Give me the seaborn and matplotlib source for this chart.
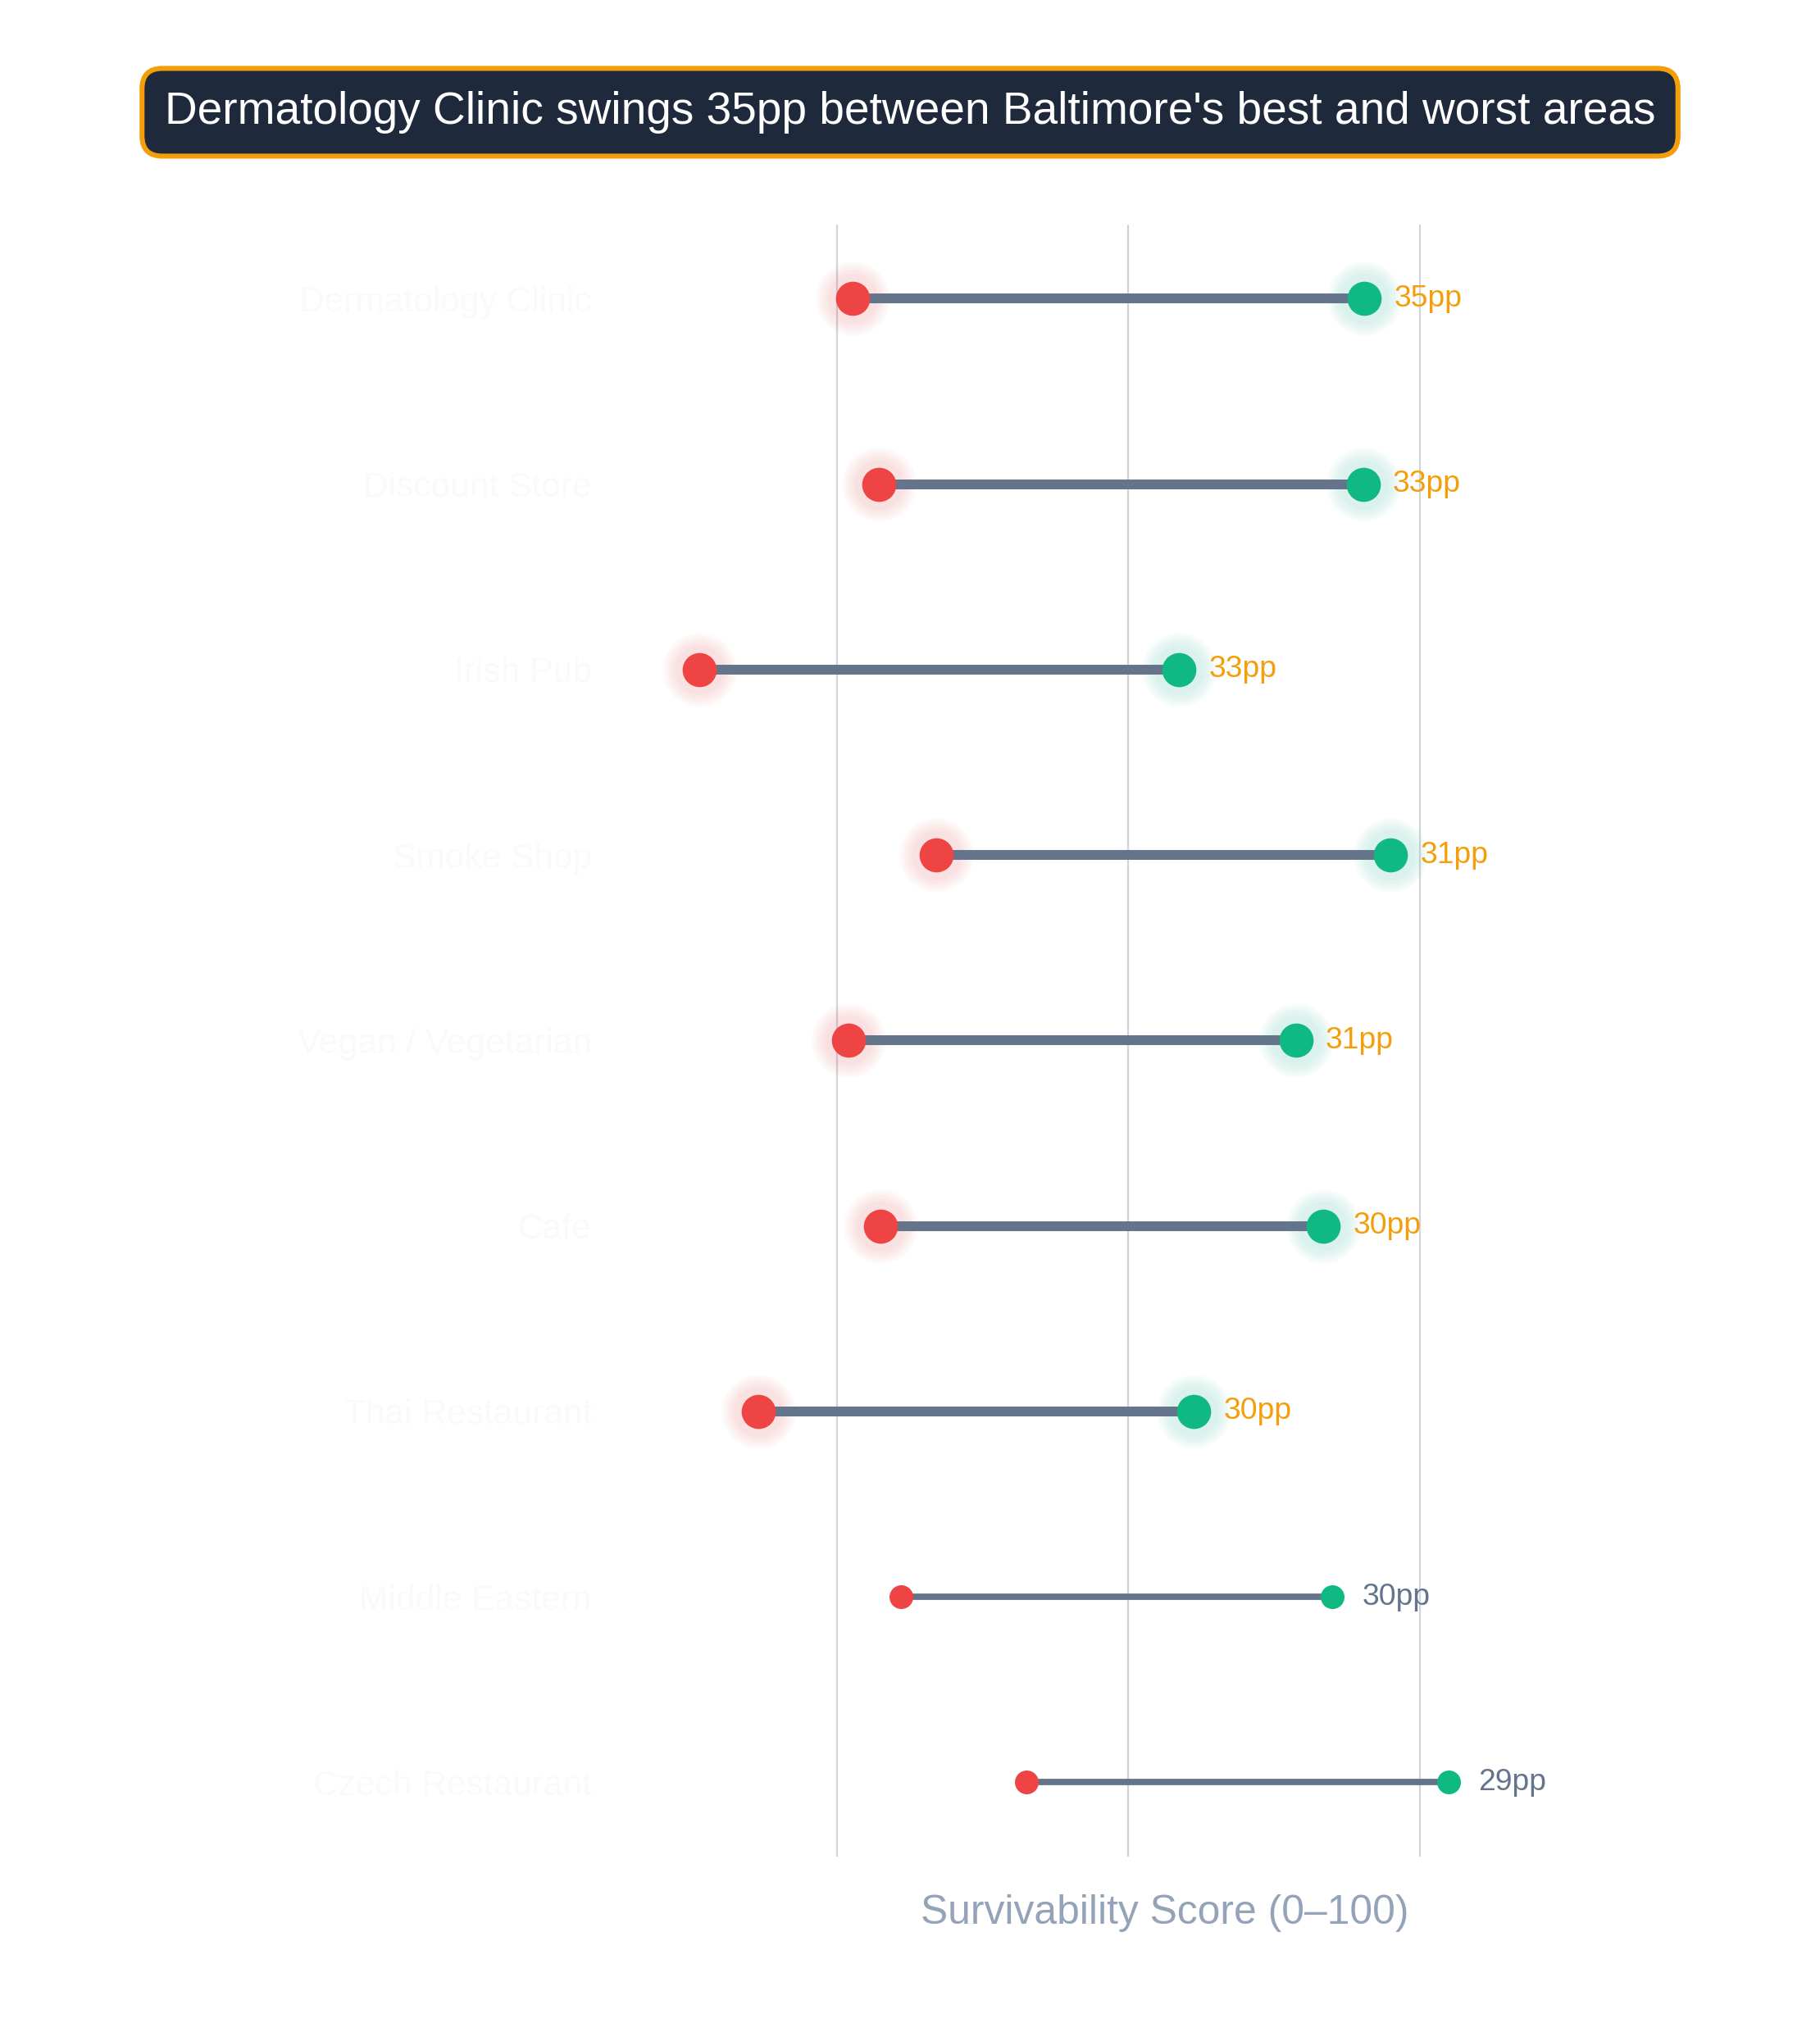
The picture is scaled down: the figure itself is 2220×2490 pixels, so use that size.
import matplotlib.pyplot as plt
import seaborn as sns
import pandas as pd

categories = ["Dermatology Clinic", "Discount Store", "Irish Pub", "Smoke Shop",
              "Vegan / Vegetarian", "Cafe", "Thai Restaurant", "Middle Eastern",
              "Czech Restaurant"]
worst = [41.1, 42.9, 30.6, 46.8, 40.8, 43.0, 34.6, 44.4, 53.0]
best = [76.2, 76.1, 63.5, 78.0, 71.5, 73.4, 64.5, 74.0, 82.0]
gaps = [35, 33, 33, 31, 31, 30, 30, 30, 29]
highlight = [True, True, True, True, True, True, True, False, False]

title = "Dermatology Clinic swings 35pp between Baltimore's best and worst areas"

RED = "#ef4444"
GREEN = "#10b981"
ORANGE = "#f59e0b"
SLATE = "#64748b"

df = pd.DataFrame({"cat": categories, "worst": worst, "best": best,
                   "gap": gaps, "hl": highlight})
df["pos"] = range(len(df))

sns.set_theme(style="white")
plt.rcParams['font.family'] = ['Liberation Sans', 'DejaVu Sans']

fig = plt.figure(figsize=(11.1, 12.45), dpi=200)
ax = fig.add_axes([0.3396, 0.0904, 0.6007, 0.7996])

hl = df[df["hl"]]
rest = df[~df["hl"]]

# connecting bars
ax.hlines(hl["pos"], hl["worst"], hl["best"], color=SLATE, lw=4.3, zorder=2)
ax.hlines(rest["pos"], rest["worst"], rest["best"], color=SLATE, lw=2.8, zorder=2)

# soft glow rings behind highlighted dots
for s in [1050, 900, 760, 620, 480]:
    ax.scatter(hl["worst"], hl["pos"], s=s, color=RED, alpha=0.032, lw=0, zorder=1)
    ax.scatter(hl["best"], hl["pos"], s=s, color=GREEN, alpha=0.032, lw=0, zorder=1)

sns.scatterplot(data=hl, x="worst", y="pos", s=225, color=RED, linewidth=0, ax=ax, zorder=3)
sns.scatterplot(data=hl, x="best", y="pos", s=225, color=GREEN, linewidth=0, ax=ax, zorder=3)
sns.scatterplot(data=rest, x="worst", y="pos", s=109, color=RED, linewidth=0, ax=ax, zorder=3)
sns.scatterplot(data=rest, x="best", y="pos", s=109, color=GREEN, linewidth=0, ax=ax, zorder=3)

for _, r in df.iterrows():
    ax.annotate(f"{r['gap']}pp", (r["best"], r["pos"]), xytext=(13, 0),
                textcoords="offset points", ha="left", va="center",
                fontsize=13.4, color=ORANGE if r["hl"] else SLATE)

ax.set_xlim(25, 100)
ax.set_ylim(len(df) - 0.6, -0.4)
ax.set_xticks([40, 60, 80])
ax.set_xticklabels([])
ax.set_yticks(df["pos"])
ax.set_yticklabels(df["cat"], fontsize=15.3, color="#f8fafc")
ax.tick_params(axis="both", length=0)
ax.tick_params(axis="y", pad=11.5)
ax.grid(axis="x", color="#d1d5db", lw=0.8)
ax.grid(axis="y", visible=False)
for sp in ax.spines.values():
    sp.set_visible(False)
ax.set_ylabel("")
ax.set_xlabel("Survivability Score (0\u2013100)", fontsize=17.9, color="#94a3b8", labelpad=13)

fig.text(0.5, 0.945, title, ha="center", va="center", fontsize=19.8, color="white",
         bbox=dict(boxstyle="round,pad=0.5,rounding_size=0.45", fc="#1e293b",
                   ec=ORANGE, lw=2.2))

fig.savefig("out.png", dpi=200, facecolor="white")
